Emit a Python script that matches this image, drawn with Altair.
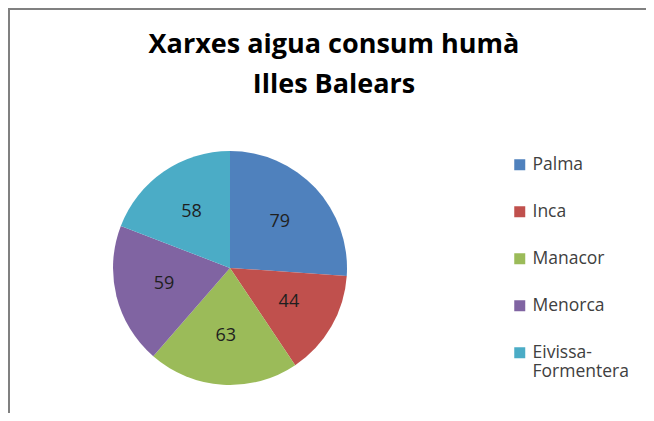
import altair as alt
import pandas as pd

regions = ["Palma", "Inca", "Manacor", "Menorca", "Eivissa-Formentera"]
values = [79, 44, 63, 59, 58]
colors = ["#4F81BD", "#C0504D", "#9BBB59", "#8064A2", "#4BACC6"]
order = [0, 1, 2, 3, 4]

df = pd.DataFrame({"region": regions, "value": values, "order": order})

W, H = 638, 405
cx, cy = 222, 260

base = alt.Chart(df).encode(
    theta=alt.Theta("value:Q", stack=True),
    order=alt.Order("order:Q"),
)

pie = base.mark_arc(radius=117).encode(
    color=alt.Color(
        "region:N",
        scale=alt.Scale(domain=regions, range=colors),
        legend=alt.Legend(
            title=None,
            orient="none",
            legendX=503,
            legendY=148,
            symbolType="square",
            symbolSize=121,
            symbolStrokeWidth=0,
            labelFontSize=17.5,
            labelFont="Open Sans",
            labelColor="#404040",
            rowPadding=28,
            labelOffset=4,
            labelLimit=200,
            labelExpr="datum.label == 'Eivissa-Formentera' ? ['Eivissa-', 'Formentera'] : datum.label",
        ),
    ),
    x=alt.value(cx),
    y=alt.value(cy),
)

labels = base.mark_text(radius=68, fontSize=18, font="Open Sans", color="#1f1f1f").encode(
    text="value:Q",
    x=alt.value(cx),
    y=alt.value(cy),
)

# frame lines (top and left edges of the chart box)
top_line = alt.Chart(df).mark_rule(color="#808080", strokeWidth=2).encode(
    x=alt.value(0), x2=alt.value(W), y=alt.value(1)
)
left_line = alt.Chart(df).mark_rule(color="#808080", strokeWidth=2).encode(
    x=alt.value(1), y=alt.value(0), y2=alt.value(H)
)

chart = (
    alt.layer(top_line, left_line, pie, labels)
    .properties(
        width=W,
        height=H,
        padding=0,
        autosize=alt.AutoSizeParams(type="none"),
        title=alt.Title(
            ["Xarxes aigua consum humà", "Illes Balears"],
            font="Open Sans",
            fontSize=27,
            fontWeight="bold",
            color="#000000",
            anchor="middle",
            baseline="alphabetic",
            offset=0,
            dy=113,
            dx=7,
            lineHeight=40,
        ),
    )
    .configure_view(stroke=None)
    .configure(background="white")
)

chart.save("out.html", embed_options={"renderer": "svg", "actions": False})
